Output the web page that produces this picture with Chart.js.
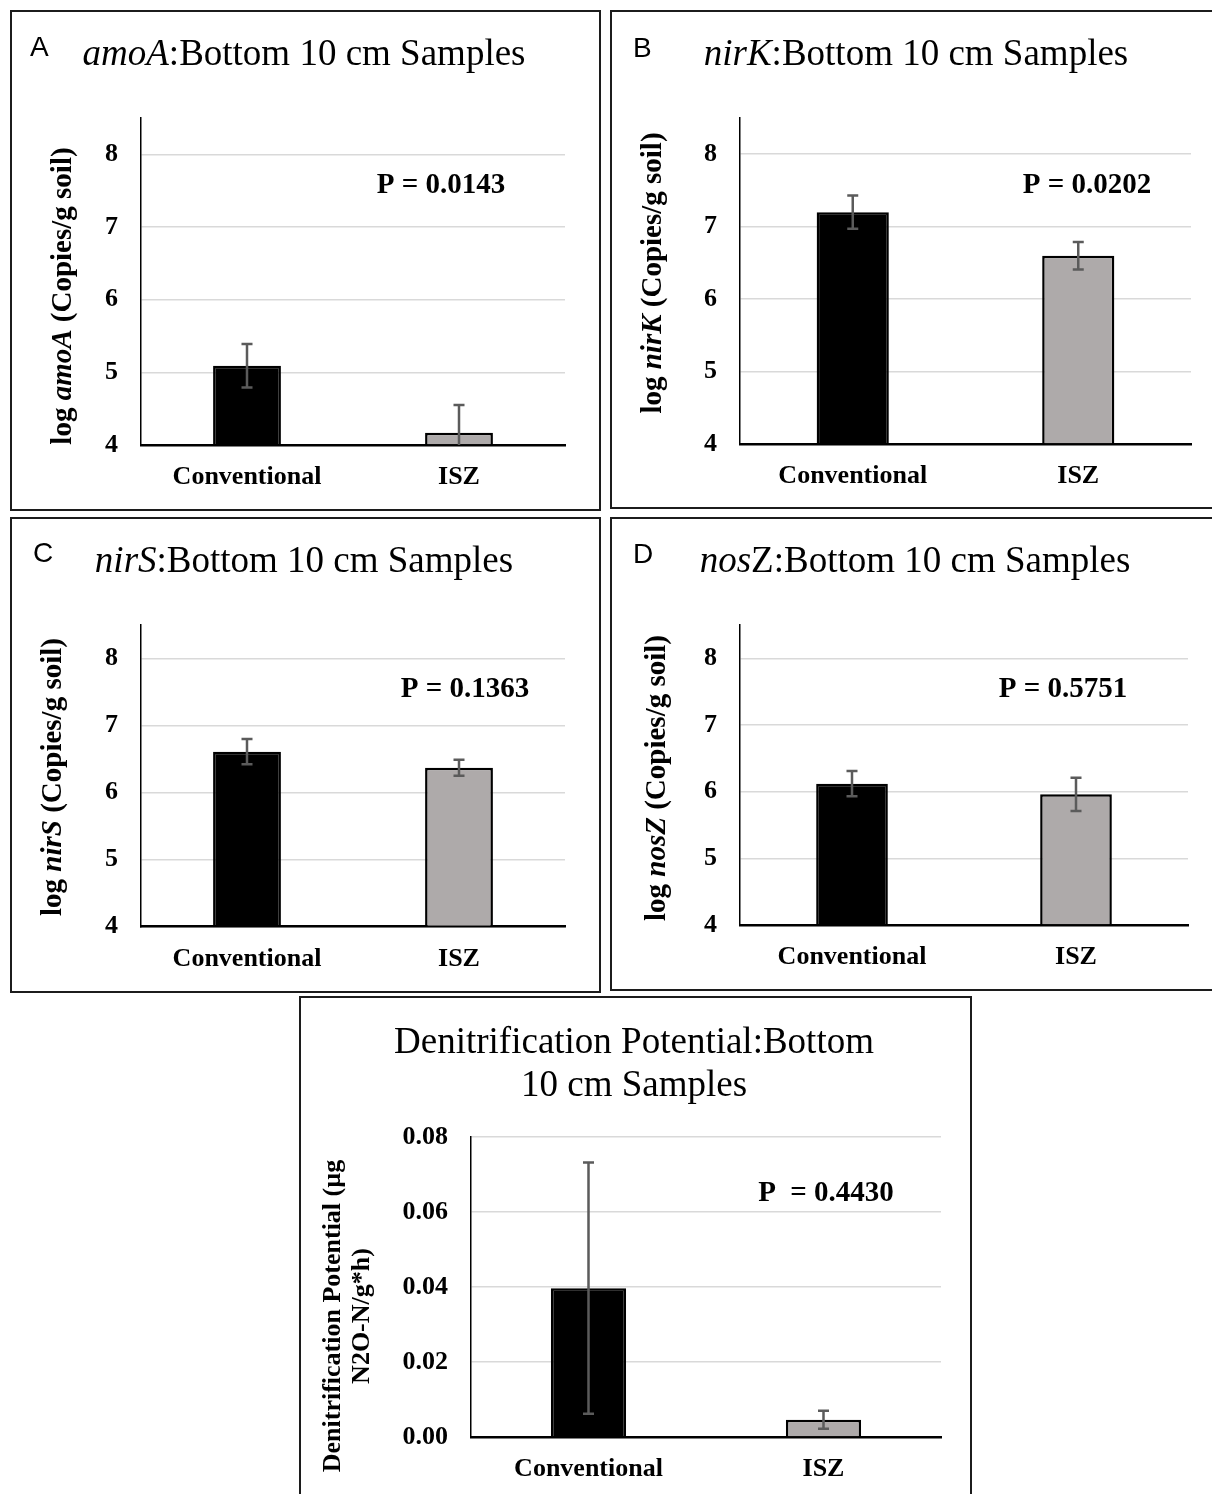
<!DOCTYPE html>
<html>
<head>
<meta charset="utf-8">
<script src="https://cdn.jsdelivr.net/npm/chart.js@4.4.1/dist/chart.umd.min.js"></script>
<style>
html, body { margin: 0; padding: 0; background: #fff; overflow: hidden; width: 1212px; height: 1494px; }
.panel { position: absolute; box-sizing: border-box; border: 2px solid #1c1c1c; background: #fff; }
.panel canvas { display: block; }
</style>
</head>
<body>
<script>
var categories = ['Conventional', 'ISZ'];

// log copies / g soil, mean and standard error
var amoaMean = [5.09, 4.17];
var amoaErr = [0.30, 0.38];
var nirkMean = [7.20, 6.60];
var nirkErr = [0.23, 0.19];
var nirsMean = [6.61, 6.37];
var nirsErr = [0.19, 0.12];
var noszMean = [6.12, 5.96];
var noszErr = [0.19, 0.25];

// denitrification potential, ug N2O-N / g*h
var dpMean = [0.0397, 0.0046];
var dpErr = [0.0335, 0.0024];

var geneTicks = [4, 5, 6, 7, 8];
var dpTicks = [0, 0.02, 0.04, 0.06, 0.08];

var pLabels = ['P = 0.0143', 'P = 0.0202', 'P = 0.1363', 'P = 0.5751', 'P  = 0.4430'];

var SERIF = '"Liberation Serif", "Times New Roman", Times, serif';
var SANS = '"Liberation Sans", Arial, sans-serif';
var YW = 90, XH = 60;

function fontStr(size, bold, italic, family) {
  return (italic ? 'italic ' : '') + (bold ? 'bold ' : '') + size + 'px ' + (family || SERIF);
}

// draws a run of plain/italic pieces centred on cx
function drawRich(ctx, parts, cx, y, size, bold) {
  var total = 0;
  parts.forEach(function (p) {
    ctx.font = fontStr(size, bold, p[1]);
    total += ctx.measureText(p[0]).width;
  });
  var x = cx - total / 2;
  ctx.textAlign = 'left';
  parts.forEach(function (p) {
    ctx.font = fontStr(size, bold, p[1]);
    ctx.fillText(p[0], x, y);
    x += ctx.measureText(p[0]).width;
  });
}

var errorBars = {
  id: 'errorBars',
  afterDatasetsDraw: function (chart, args, opts) {
    var ctx = chart.ctx, y = chart.scales.y, a = chart.chartArea;
    var means = chart.data.datasets[0].data;
    ctx.save();
    ctx.beginPath();
    ctx.rect(a.left, a.top, a.right - a.left, a.bottom - a.top);
    ctx.clip();
    ctx.strokeStyle = '#5b5b5b';
    ctx.lineWidth = 2.5;
    chart.getDatasetMeta(0).data.forEach(function (bar, i) {
      var hi = y.getPixelForValue(means[i] + opts.err[i]);
      var lo = y.getPixelForValue(means[i] - opts.err[i]);
      ctx.beginPath();
      ctx.moveTo(bar.x, hi); ctx.lineTo(bar.x, lo);
      ctx.moveTo(bar.x - 5.5, hi); ctx.lineTo(bar.x + 5.5, hi);
      ctx.moveTo(bar.x - 5.5, lo); ctx.lineTo(bar.x + 5.5, lo);
      ctx.stroke();
    });
    ctx.restore();
  }
};

var panelText = {
  id: 'panelText',
  afterDraw: function (chart, args, o) {
    var ctx = chart.ctx;
    ctx.save();
    ctx.fillStyle = '#000';
    ctx.textBaseline = 'alphabetic';
    if (o.letter) {
      ctx.font = fontStr(28, false, false, SANS);
      ctx.textAlign = 'left';
      ctx.fillText(o.letter[0], o.letter[1] - o.ox, o.letter[2] - o.oy);
    }
    o.title.forEach(function (line, k) {
      drawRich(ctx, line, o.titleAt[0] - o.ox, o.titleAt[1] + k * 43 - o.oy, 37, false);
    });
    // rotated y axis title
    ctx.save();
    ctx.translate(o.yTitleAt[0] - o.ox, o.yTitleAt[1] - o.oy);
    ctx.rotate(-Math.PI / 2);
    ctx.textBaseline = 'middle';
    var n = o.yTitle.length;
    o.yTitle.forEach(function (line, k) {
      drawRich(ctx, line, 0, (k - (n - 1) / 2) * 29, o.yTitleSize, true);
    });
    ctx.restore();
    ctx.font = fontStr(29, true, false);
    ctx.textAlign = 'center';
    ctx.textBaseline = 'middle';
    ctx.fillText(o.p, o.pAt[0] - o.ox, o.pAt[1] - o.oy);
    ctx.restore();
  }
};

var geneFmt = function (v) { return String(v); };
var dpFmt = function (v) { return v.toFixed(2); };

var panels = [
  { box: [10, 10, 591, 501], area: [141, 118, 565, 445], letter: ['A', 30, 56],
    title: [[['amoA', true], [':Bottom 10 cm Samples', false]]], titleAt: [304, 65],
    yTitle: [[['log ', false], ['amoA', true], [' (Copies/g soil)', false]]], yTitleAt: [64, 296], yTitleSize: 29,
    p: pLabels[0], pAt: [441, 186], mean: amoaMean, err: amoaErr,
    ticks: geneTicks, yMin: 4, yMax: 8.5, fmt: geneFmt },
  { box: [610, 10, 605, 499], area: [740, 118, 1191, 444], letter: ['B', 633, 57],
    title: [[['nirK', true], [':Bottom 10 cm Samples', false]]], titleAt: [916, 65],
    yTitle: [[['log ', false], ['nirK', true], [' (Copies/g soil)', false]]], yTitleAt: [654, 273], yTitleSize: 29,
    p: pLabels[1], pAt: [1087, 186], mean: nirkMean, err: nirkErr,
    ticks: geneTicks, yMin: 4, yMax: 8.5, fmt: geneFmt },
  { box: [10, 517, 591, 476], area: [141, 625, 565, 926.5], letter: ['C', 33, 562],
    title: [[['nirS', true], [':Bottom 10 cm Samples', false]]], titleAt: [304, 572],
    yTitle: [[['log ', false], ['nirS', true], [' (Copies/g soil)', false]]], yTitleAt: [54, 777], yTitleSize: 29,
    p: pLabels[2], pAt: [465, 690], mean: nirsMean, err: nirsErr,
    ticks: geneTicks, yMin: 4, yMax: 8.5, fmt: geneFmt },
  { box: [610, 517, 605, 474], area: [740, 625, 1188, 925], letter: ['D', 633, 563],
    title: [[['nos', true], ['Z:Bottom 10 cm Samples', false]]], titleAt: [915, 572],
    yTitle: [[['log ', false], ['nosZ', true], [' (Copies/g soil)', false]]], yTitleAt: [658, 778], yTitleSize: 29,
    p: pLabels[3], pAt: [1063, 690], mean: noszMean, err: noszErr,
    ticks: geneTicks, yMin: 4, yMax: 8.5, fmt: geneFmt },
  { box: [299, 996, 673, 504], area: [471, 1137, 941, 1437], letter: null,
    title: [[['Denitrification Potential:Bottom', false]], [['10 cm Samples', false]]], titleAt: [634, 1053],
    yTitle: [[['Denitrification Potential (\u00b5g', false]], [['N2O-N/g*h)', false]]], yTitleAt: [348, 1316], yTitleSize: 26,
    p: pLabels[4], pAt: [826, 1194], mean: dpMean, err: dpErr,
    ticks: dpTicks, yMin: 0, yMax: 0.08, fmt: dpFmt }
];

panels.forEach(function (p) {
  var div = document.createElement('div');
  div.className = 'panel';
  div.style.left = p.box[0] + 'px';
  div.style.top = p.box[1] + 'px';
  div.style.width = p.box[2] + 'px';
  div.style.height = p.box[3] + 'px';
  var cw = p.box[2] - 4, ch = p.box[3] - 4;
  var ox = p.box[0] + 2, oy = p.box[1] + 2;
  var canvas = document.createElement('canvas');
  canvas.width = cw; canvas.height = ch;
  canvas.style.width = cw + 'px'; canvas.style.height = ch + 'px';
  div.appendChild(canvas);
  document.body.appendChild(div);

  var l = p.area[0] - ox, t = p.area[1] - oy, r = p.area[2] - ox, b = p.area[3] - oy;

  new Chart(canvas.getContext('2d'), {
    type: 'bar',
    data: {
      labels: categories,
      datasets: [{
        data: p.mean,
        base: p.yMin,
        backgroundColor: ['#000000', '#aeaaaa'],
        borderColor: '#000000',
        borderWidth: 2.5,
        barPercentage: 0.32,
        categoryPercentage: 1
      }]
    },
    options: {
      responsive: false,
      animation: false,
      devicePixelRatio: 1,
      layout: { padding: { left: l - YW, right: cw - r, top: t, bottom: ch - b - XH } },
      plugins: {
        legend: { display: false },
        tooltip: { enabled: false },
        errorBars: { err: p.err },
        panelText: {
          ox: ox, oy: oy, letter: p.letter, title: p.title, titleAt: p.titleAt,
          yTitle: p.yTitle, yTitleAt: p.yTitleAt, yTitleSize: p.yTitleSize, p: p.p, pAt: p.pAt
        }
      },
      scales: {
        x: {
          z: 1,
          grid: { color: 'rgba(0,0,0,0)', drawTicks: false },
          border: { color: '#000', width: 2.5 },
          ticks: { color: '#000', font: { family: SERIF, size: 26, weight: 'bold' }, padding: 17 },
          afterFit: function (s) { s.height = XH; }
        },
        y: {
          min: p.yMin,
          max: p.yMax,
          afterBuildTicks: function (s) {
            s.ticks = p.ticks.map(function (v) { return { value: v }; });
          },
          grid: { color: '#d9d9d9', lineWidth: 1.5, drawTicks: false },
          border: { color: '#000', width: 1.5 },
          ticks: {
            color: '#000',
            font: { family: SERIF, size: 26, weight: 'bold' },
            padding: 23,
            callback: function (v) { return p.fmt(v); }
          },
          afterFit: function (s) { s.width = YW; }
        }
      }
    },
    plugins: [errorBars, panelText]
  });
});
</script>
</body>
</html>
